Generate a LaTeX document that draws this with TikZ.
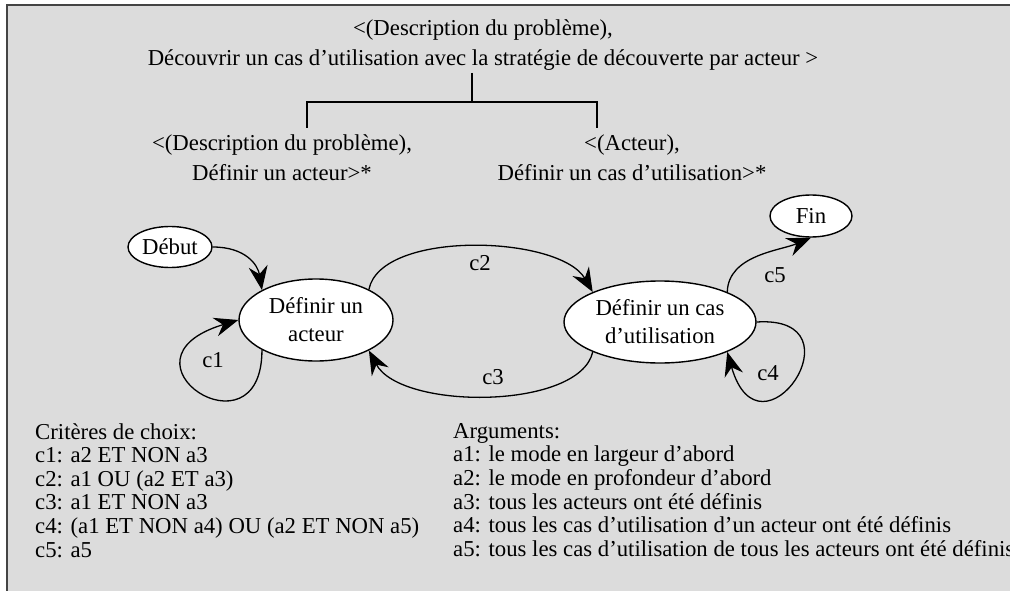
\documentclass[tikz,border=0pt]{standalone}
\usepackage{fontspec}
\setmainfont{Liberation Serif}
\usetikzlibrary{arrows.meta,shapes.geometric}
\definecolor{panel}{HTML}{DCDCDC}
\definecolor{framegrey}{HTML}{444444}
\begin{document}
\begin{tikzpicture}[x=1pt,y=-1pt,
  txt/.style={inner sep=0pt, font=\fontsize{22.75}{30}\selectfont},
  state/.style={ellipse, draw=black, fill=white, line width=1.4pt, inner sep=0pt,
    align=center, font=\fontsize{22.75}{28}\selectfont},
  flow/.style={draw=black, line width=1.3pt,
    -{Stealth[length=24pt,width=19pt,inset=8pt]}},
  tree/.style={draw=black, line width=1.4pt},
  lbl/.style={inner sep=0pt, font=\fontsize{22.75}{28}\selectfont},
  legend/.style={inner sep=0pt, anchor=north west, align=left,
    font=\fontsize{22.75}{23.6}\selectfont}]
\useasboundingbox (0,0) rectangle (1010,591);
\fill[white] (0,0) rectangle (1010,591);
\fill[panel] (7,5) rectangle (1012,593);
\draw[framegrey, line width=2pt] (7,593) -- (7,5) -- (1012,5);

% goal and its two sub-goals
\node[txt, align=center] (goal) at (483,45)
  {<(Description du problème),\\Découvrir un cas d’utilisation avec la stratégie de découverte par acteur >};
\node[txt, align=center] (sub1) at (282,158)
  {<(Description du problème),\\Définir un acteur>*};
\node[txt, align=center] (sub2) at (632,158)
  {<(Acteur),\\Définir un cas d’utilisation>*};

\coordinate (stem) at (472,73);
\coordinate (fork) at (472,102);
\coordinate (forkL) at (307,102);
\coordinate (forkR) at (597,102);
\coordinate (legL) at (307,128);
\coordinate (legR) at (597,128);
\draw[tree] (stem) -- (fork);
\draw[tree] (legL) -- (forkL) -- (forkR) -- (legR);

% process map
\node[state, minimum width=84pt, minimum height=41pt] (debut) at (170,247) {Début};
\node[state, minimum width=154pt, minimum height=82pt] (acteur) at (316,320) {Définir un\\acteur};
\node[state, minimum width=192pt, minimum height=82pt] (cas) at (660,322) {Définir un cas\\d’utilisation};
\node[state, minimum width=82pt, minimum height=42pt] (fin) at (811,216) {Fin};

\draw[flow] (debut.east) .. controls +(33,0) and +(-4,-25) .. (acteur.151);
\draw[flow] (acteur.209) .. controls +(0,112) and +(-132,40) .. (acteur.180);
\draw[flow] (acteur.30) .. controls +(12,-60) and +(-33,-57) .. (cas.156);
\draw[flow] (cas.204) .. controls +(-13,58) and +(32,60) .. (acteur.-30);
\draw[flow] (cas.0) .. controls +(108,-7) and +(33,116) .. (cas.-24);
\draw[flow] (cas.24) .. controls +(1,-37) and +(-31,13) .. (fin.south);

\node[lbl] (c1) at (213,360) {c1};
\node[lbl] (c2) at (480,263) {c2};
\node[lbl] (c3) at (493,377) {c3};
\node[lbl] (c4) at (768,373) {c4};
\node[lbl] (c5) at (775,275) {c5};

% legends
\node[legend] (crit) at (35,423) {Critères de choix:\\c1: a2 ET NON a3\\c2: a1 OU (a2 ET a3)\\c3: a1 ET NON a3\\c4: (a1 ET NON a4) OU (a2 ET NON a5)\\c5: a5};
\node[legend] (args) at (453,423) {Arguments:\\a1: le mode en largeur d’abord\\a2: le mode en profondeur d’abord\\a3: tous les acteurs ont été définis\\a4: tous les cas d’utilisation d’un acteur ont été définis\\a5: tous les cas d’utilisation de tous les acteurs ont été définis};
\end{tikzpicture}
\end{document}
